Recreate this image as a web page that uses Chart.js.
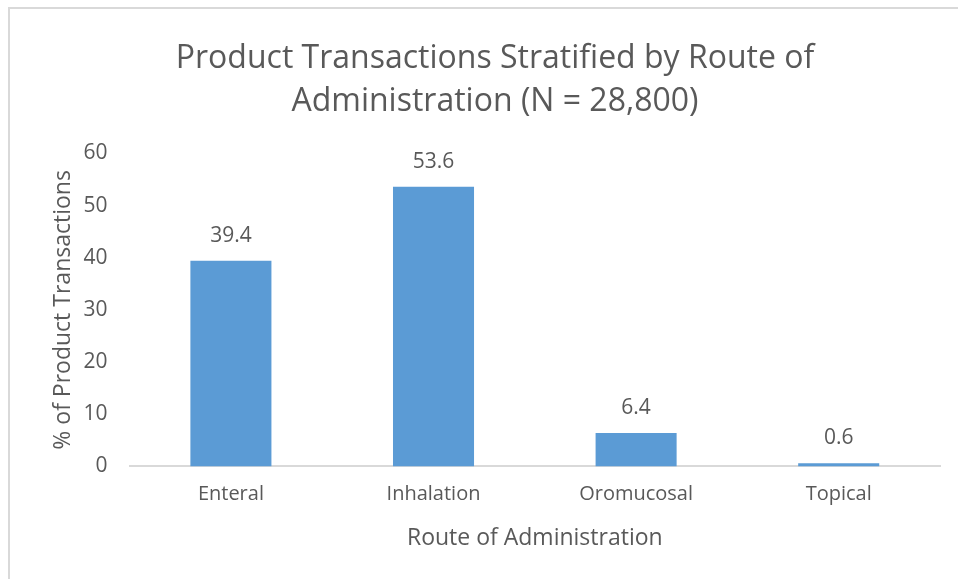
<!DOCTYPE html>
<html>
<head>
<meta charset="utf-8">
<script src="https://cdn.jsdelivr.net/npm/chart.js@4/dist/chart.umd.min.js"></script>
<style>
  html, body { margin: 0; padding: 0; overflow: hidden; background: #fff; }
  #frame { position: absolute; left: 8px; top: 7px; width: 1000px; height: 700px; border: 2px solid #d9d9d9; box-sizing: border-box; }
  #myChart { position: absolute; left: 0; top: 0; }
</style>
</head>
<body>
<div id="frame"></div>
<canvas id="myChart" width="958" height="579"></canvas>
<script>
const routes = ["Enteral", "Inhalation", "Oromucosal", "Topical"];
const percentValues = [39.4, 53.6, 6.4, 0.6];
const yTicks = [0, 10, 20, 30, 40, 50, 60];

const textColor = "#595959";
const font = "'Open Sans', 'Liberation Sans', sans-serif";

// draws the value above each bar
const barLabels = {
  id: "barLabels",
  afterDatasetsDraw(chart) {
    const ctx = chart.ctx;
    const meta = chart.getDatasetMeta(0);
    ctx.save();
    ctx.fillStyle = textColor;
    ctx.font = "21px " + font;
    ctx.textAlign = "center";
    ctx.textBaseline = "middle";
    meta.data.forEach((bar, i) => {
      ctx.fillText(percentValues[i].toFixed(1), bar.x, bar.y - 25);
    });
    ctx.restore();
  },
};

const chart = document.getElementById("myChart");
const myChart = new Chart(chart, {
  type: "bar",
  data: {
    labels: routes,
    datasets: [
      {
        label: "% of Product Transactions",
        backgroundColor: "#5b9bd5",
        borderWidth: 0,
        data: percentValues,
        categoryPercentage: 1,
        barPercentage: 0.4,
      },
    ],
  },
  plugins: [barLabels],
  options: {
    responsive: false,
    animation: false,
    layout: { padding: { left: 50, right: 18, top: 12, bottom: 27 } },
    plugins: {
      legend: { display: false },
      tooltip: { enabled: false },
      title: {
        display: true,
        text: ["Product Transactions Stratified by Route of", "Administration (N = 28,800)"],
        color: textColor,
        font: { family: font, size: 32, weight: "normal", lineHeight: 1.35 },
        padding: { top: 25, bottom: 30 },
      },
    },
    scales: {
      x: {
        grid: { display: false, drawTicks: false },
        border: { display: true, color: "#d9d9d9", width: 2 },
        ticks: { color: textColor, font: { family: font, size: 20 }, padding: 16 },
        title: {
          display: true,
          text: "Route of Administration",
          color: textColor,
          font: { family: font, size: 23 },
          padding: { top: 2, bottom: 0 },
        },
      },
      y: {
        min: 0,
        max: 60,
        afterBuildTicks: (axis) => {
          axis.ticks = yTicks.map((v) => ({ value: v }));
        },
        grid: { display: false, drawTicks: false },
        border: { display: false },
        ticks: { color: textColor, font: { family: font, size: 21 }, padding: 22 },
        title: {
          display: true,
          text: "% of Product Transactions",
          color: textColor,
          font: { family: font, size: 23 },
          padding: { top: 0, bottom: -16 },
        },
      },
    },
  },
});
</script>
</body>
</html>
